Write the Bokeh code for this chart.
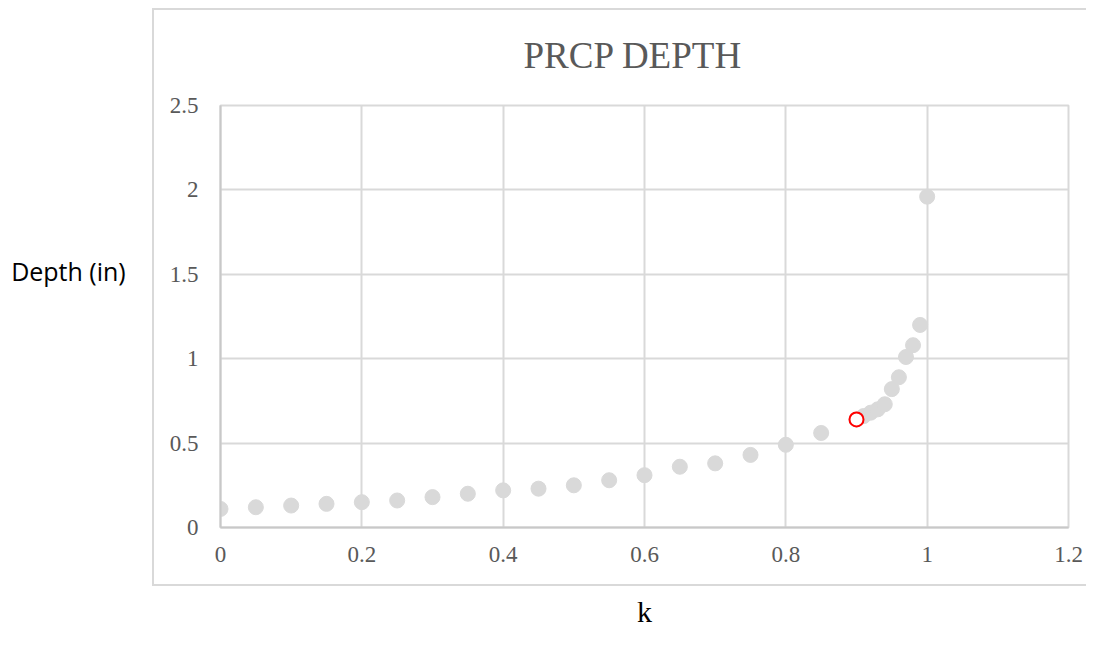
from bokeh.plotting import figure
from bokeh.models import FixedTicker, InlineStyleSheet
from bokeh.embed import file_html
from bokeh.resources import INLINE

# ---- data ----
k_values = [0, 0.05, 0.1, 0.15, 0.2, 0.25, 0.3, 0.35, 0.4, 0.45, 0.5, 0.55, 0.6,
            0.65, 0.7, 0.75, 0.8, 0.85, 0.9, 0.91, 0.92, 0.93, 0.94, 0.95, 0.96,
            0.97, 0.98, 0.99, 1.0]
depth_values = [0.11, 0.12, 0.13, 0.14, 0.15, 0.16, 0.18, 0.20, 0.22, 0.23, 0.25,
                0.28, 0.31, 0.36, 0.38, 0.43, 0.49, 0.56, 0.64, 0.66, 0.68, 0.70,
                0.73, 0.82, 0.89, 1.01, 1.08, 1.20, 1.96]
highlight_k = [0.9]
highlight_depth = [0.64]

x_ticks = [0, 0.2, 0.4, 0.6, 0.8, 1.0, 1.2]
x_tick_labels = ["0", "0.2", "0.4", "0.6", "0.8", "1", "1.2"]
y_ticks = [0, 0.5, 1.0, 1.5, 2.0, 2.5]
y_tick_labels = ["0", "0.5", "1", "1.5", "2", "2.5"]

title_text = "PRCP DEPTH"
x_title = "k"
y_title = "Depth (in)"

GRID = "#d9d9d9"
TXT = "#595959"
SERIF = "Liberation Serif"

p = figure(width=1086, height=638, output_backend="svg", toolbar_location=None,
           x_range=(0, 1.2), y_range=(0, 2.5))
p.min_border_left = 220
p.min_border_right = 18
p.min_border_top = 105
p.min_border_bottom = 111
p.background_fill_color = "white"
p.border_fill_color = "white"
p.outline_line_color = GRID
p.outline_line_width = 2

# outer chart-area border drawn by CSS around the plot region
p.stylesheets = [InlineStyleSheet(css="""
:host { position: relative; }
:host::after {
  content: '';
  position: absolute;
  left: 152px; top: 8px;
  width: calc(100% - 152px); height: 578px;
  border: 2px solid #d9d9d9; border-right: none;
  box-sizing: border-box;
  pointer-events: none;
}
""")]

p.title.text = title_text
p.title.align = "left"
p.title.offset = 303
p.title.text_font = SERIF
p.title.text_font_size = "37px"
p.title.text_font_style = "normal"
p.title.text_color = TXT
p.title.standoff = 59

for ax in (p.xaxis[0], p.yaxis[0]):
    ax.major_tick_line_color = None
    ax.minor_tick_line_color = None
    ax.major_tick_in = 0
    ax.major_tick_out = 0
    ax.minor_tick_in = 0
    ax.minor_tick_out = 0
    ax.axis_line_color = "#c8c8c8"
    ax.axis_line_width = 2
    ax.major_label_text_font = SERIF
    ax.major_label_text_font_size = "23px"
    ax.major_label_text_color = TXT

p.xaxis.ticker = FixedTicker(ticks=x_ticks)
p.yaxis.ticker = FixedTicker(ticks=y_ticks)
p.xaxis.major_label_overrides = {t: l for t, l in zip(x_ticks, x_tick_labels)}
p.yaxis.major_label_overrides = {t: l for t, l in zip(y_ticks, y_tick_labels)}
p.xaxis.major_label_standoff = 19
p.yaxis.major_label_standoff = 22

p.xaxis.axis_label = x_title
p.xaxis.axis_label_text_font = SERIF
p.xaxis.axis_label_text_font_size = "30px"
p.xaxis.axis_label_text_font_style = "normal"
p.xaxis.axis_label_text_color = "black"
p.xaxis.axis_label_standoff = 30

# y title: horizontal, sitting above the vertical centre of the frame
p.yaxis.axis_label = y_title + "\n \n "
p.yaxis.axis_label_orientation = "horizontal"
p.yaxis.axis_label_text_font = "Open Sans"
p.yaxis.axis_label_text_font_size = "25px"
p.yaxis.axis_label_text_font_style = "normal"
p.yaxis.axis_label_text_color = "black"
p.yaxis.axis_label_text_line_height = 1.35
p.yaxis.axis_label_standoff = 41

p.xgrid.ticker = FixedTicker(ticks=x_ticks)
p.ygrid.ticker = FixedTicker(ticks=y_ticks)
p.grid.grid_line_color = GRID
p.grid.grid_line_width = 2

p.scatter(k_values, depth_values, size=15, color=GRID)
p.scatter(highlight_k, highlight_depth, size=14, fill_color="white",
          line_color="#ff0000", line_width=2)

open("out.html", "w").write(file_html(p, INLINE))
